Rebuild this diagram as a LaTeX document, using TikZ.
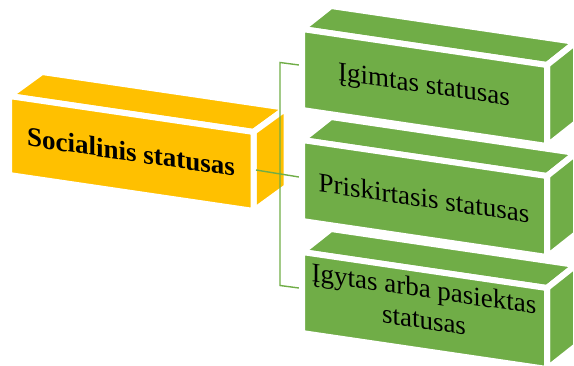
\documentclass[tikz,border=0pt]{standalone}
\usepackage{fontspec}
\setmainfont{Liberation Serif}
\usetikzlibrary{calc}

\definecolor{boxgold}{HTML}{FFC000}
\definecolor{boxgreen}{HTML}{70AD47}

% Cuboid seen in perspective: front face, top face and right side face,
% separated by white seams.  #1 name, #2/#3 front top-left corner,
% #4 width, #5 height, #6/#7 depth offset, #8 fill colour
\newcommand{\cuboid}[8]{%
  \begin{scope}[shift={(#2,#3)}]
    \pgfmathsetmacro\cubrise{0.147*#4}
    \coordinate (#1-ftl) at (0,0);
    \coordinate (#1-ftr) at (#4,\cubrise);
    \coordinate (#1-fbr) at (#4,\cubrise+#5);
    \coordinate (#1-fbl) at (0,#5);
    \coordinate (#1-btl) at (#6,#7);
    \coordinate (#1-btr) at (#4+#6,\cubrise+#7);
    \coordinate (#1-bbr) at (#4+#6,\cubrise+#5+#7);
    \filldraw[face,fill=#8] (#1-ftl) -- (#1-btl) -- (#1-btr) -- (#1-ftr) -- cycle;
    \filldraw[face,fill=#8] (#1-ftr) -- (#1-btr) -- (#1-bbr) -- (#1-fbr) -- cycle;
    \filldraw[face,fill=#8] (#1-ftl) -- (#1-ftr) -- (#1-fbr) -- (#1-fbl) -- cycle;
  \end{scope}}

\tikzset{
  face/.style={draw=white,line width=6pt,line join=round},
  link/.style={draw=boxgreen,line width=1.4pt},
  lbl/.style={font=\fontsize{27}{31}\selectfont,text=black,align=center,
              inner sep=0pt,yslant=-0.147},
}

\begin{document}
\begin{tikzpicture}[x=1pt,y=-1pt]
  \useasboundingbox (0,0) rectangle (574,365);

  % parent box
  \cuboid{root}{9}{96}{244.5}{79}{33}{-24}{boxgold}
  \node[lbl,font=\fontsize{27}{31}\selectfont\bfseries] (rootlabel) at (131,152) {Socialinis statusas};

  % connector points
  \coordinate (src) at (256,170);
  \coordinate (ja) at (280,62.5);
  \coordinate (jc) at (280,285.5);
  \coordinate (ina) at (299,65);
  \coordinate (inb) at (299,177);
  \coordinate (inc) at (299,288);

  \draw[link] (src) -- (inb);
  \draw[link] (ina) -- (ja) -- (jc) -- (inc);

  % child boxes
  \cuboid{kida}{302}{29}{245}{81}{29}{-23}{boxgreen}
  \cuboid{kidb}{302}{140}{245}{81}{29}{-23}{boxgreen}
  \cuboid{kidc}{302}{252}{245}{81}{29}{-23}{boxgreen}

  \node[lbl] (kidalabel) at (424,87) {Įgimtas statusas};
  \node[lbl] (kidblabel) at (424,198) {Priskirtasis statusas};
  \node[lbl] (kidclabel) at (424,304) {Įgytas arba pasiektas\\statusas};
\end{tikzpicture}
\end{document}
